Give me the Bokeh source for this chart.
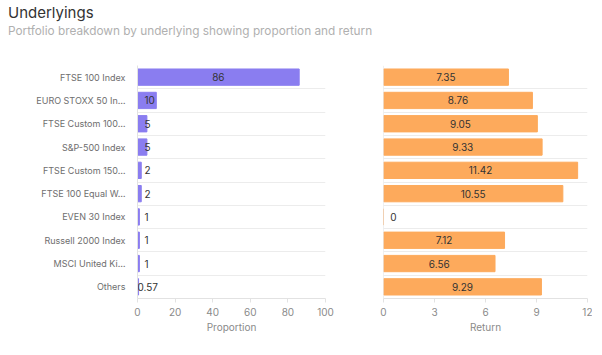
from bokeh.plotting import figure
from bokeh.models import Range1d, FixedTicker, Div, ColumnDataSource, Span
from bokeh.layouts import column, row
from bokeh.embed import file_html
from bokeh.resources import INLINE
from bokeh.core.properties import value

categories = ["FTSE 100 Index", "EURO STOXX 50 In…", "FTSE Custom 100…", "S&P-500 Index",
              "FTSE Custom 150…", "FTSE 100 Equal W…", "EVEN 30 Index", "Russell 2000 Index",
              "MSCI United Ki…", "Others"]
proportion = [86, 10, 5, 5, 2, 2, 1, 1, 1, 0.57]
proportion_labels = ["86", "10", "5", "5", "2", "2", "1", "1", "1", "0.57"]
returns = [7.35, 8.76, 9.05, 9.33, 11.42, 10.55, 0, 7.12, 6.56, 9.29]
return_labels = ["7.35", "8.76", "9.05", "9.33", "11.42", "10.55", "0", "7.12", "6.56", "9.29"]
prop_ticks = [0, 20, 40, 60, 80, 100]
ret_ticks = [0, 3, 6, 9, 12]

FONT = "Inter"
n = len(categories)
ys = [n - 1 - i for i in range(n)]
bounds = [k - 0.5 for k in range(n + 1)]

def style(p, ticks, label):
    p.outline_line_color = None
    p.xgrid.visible = False
    p.ygrid.ticker = FixedTicker(ticks=bounds)
    p.ygrid.grid_line_color = "#ececec"
    p.xaxis.ticker = FixedTicker(ticks=ticks)
    p.xaxis.axis_label = label
    p.xaxis.axis_label_text_font = FONT
    p.xaxis.axis_label_text_font_style = "normal"
    p.xaxis.axis_label_text_font_size = "10px"
    p.xaxis.axis_label_text_color = "#8a8a8a"
    p.xaxis.axis_label_standoff = 2
    p.xaxis.major_label_text_font = FONT
    p.xaxis.major_label_text_font_size = "10px"
    p.xaxis.major_label_text_color = "#8a8a8a"
    p.xaxis.major_label_standoff = 5
    p.xaxis.axis_line_color = "#e2e2e2"
    p.xaxis.major_tick_line_color = "#e2e2e2"
    p.xaxis.major_tick_in = 0
    p.xaxis.major_tick_out = 4
    p.xaxis.minor_tick_line_color = None

# Left: proportion
p1 = figure(width=345, height=305, x_range=Range1d(0, 100), y_range=Range1d(-0.5, n - 0.5),
            output_backend="svg", toolbar_location=None,
            min_border_left=129, min_border_right=28, min_border_top=27, min_border_bottom=45)
style(p1, prop_ticks, "Proportion")
p1.yaxis.ticker = FixedTicker(ticks=ys)
p1.yaxis.axis_line_color = "#e2e2e2"
p1.yaxis.major_tick_line_color = None
p1.yaxis.minor_tick_line_color = None
p1.yaxis.major_label_overrides = {y: c for y, c in zip(ys, categories)}
p1.yaxis.major_label_text_font = FONT
p1.yaxis.major_label_text_font_size = "9px"
p1.yaxis.major_label_text_color = "#6e6e6e"
p1.yaxis.major_label_standoff = 6

p1.hbar(y=ys, right=proportion, left=0, height=0.7, color="#8a7df0")
big = [v >= 20 for v in proportion]
src1 = ColumnDataSource(dict(
    x=[v / 2 if b else 0 for v, b in zip(proportion, big)],
    y=ys,
    t=proportion_labels,
    align=["center" if b else "left" for b in big],
    off=[0 if b else (7 if v >= 1 else 0) for v, b in zip(proportion, big)],
))
p1.text(x="x", y="y", text="t", text_align="align", x_offset="off", source=src1,
        text_baseline="middle", text_font=value(FONT), text_font_size="10px", text_color="#333333")

# Right: return
p2 = figure(width=239, height=305, x_range=Range1d(0, 12), y_range=p1.y_range,
            output_backend="svg", toolbar_location=None,
            min_border_left=30, min_border_right=5, min_border_top=27, min_border_bottom=45)
style(p2, ret_ticks, "Return")
p2.yaxis.visible = False
p2.add_layout(Span(location=0, dimension="height", line_color="#e2e2e2", line_width=1))

p2.hbar(y=ys, right=returns, left=0, height=0.7, color="#fdaa5c")
src2 = ColumnDataSource(dict(
    x=[v / 2 for v in returns],
    y=ys,
    t=return_labels,
    off=[10 if v == 0 else 0 for v in returns],
))
p2.text(x="x", y="y", text="t", x_offset="off", source=src2, text_align="center",
        text_baseline="middle", text_font=value(FONT), text_font_size="10px", text_color="#333333")

title = Div(text="Underlyings", width=586, height=19, margin=(5, 0, 0, 0),
            styles={"font-family": FONT, "font-size": "15px", "line-height": "15px",
                    "color": "#333333"})
subtitle = Div(text="Portfolio breakdown by underlying showing proportion and return",
               width=586, height=14, margin=(0, 0, 0, 0),
               styles={"font-family": FONT, "font-size": "11.8px", "line-height": "14px",
                       "color": "#b0b0b0"})

layout = column(title, subtitle, row(p1, p2), spacing=0, margin=(0, 0, 0, 8))
open("out.html", "w").write(file_html(layout, INLINE))
